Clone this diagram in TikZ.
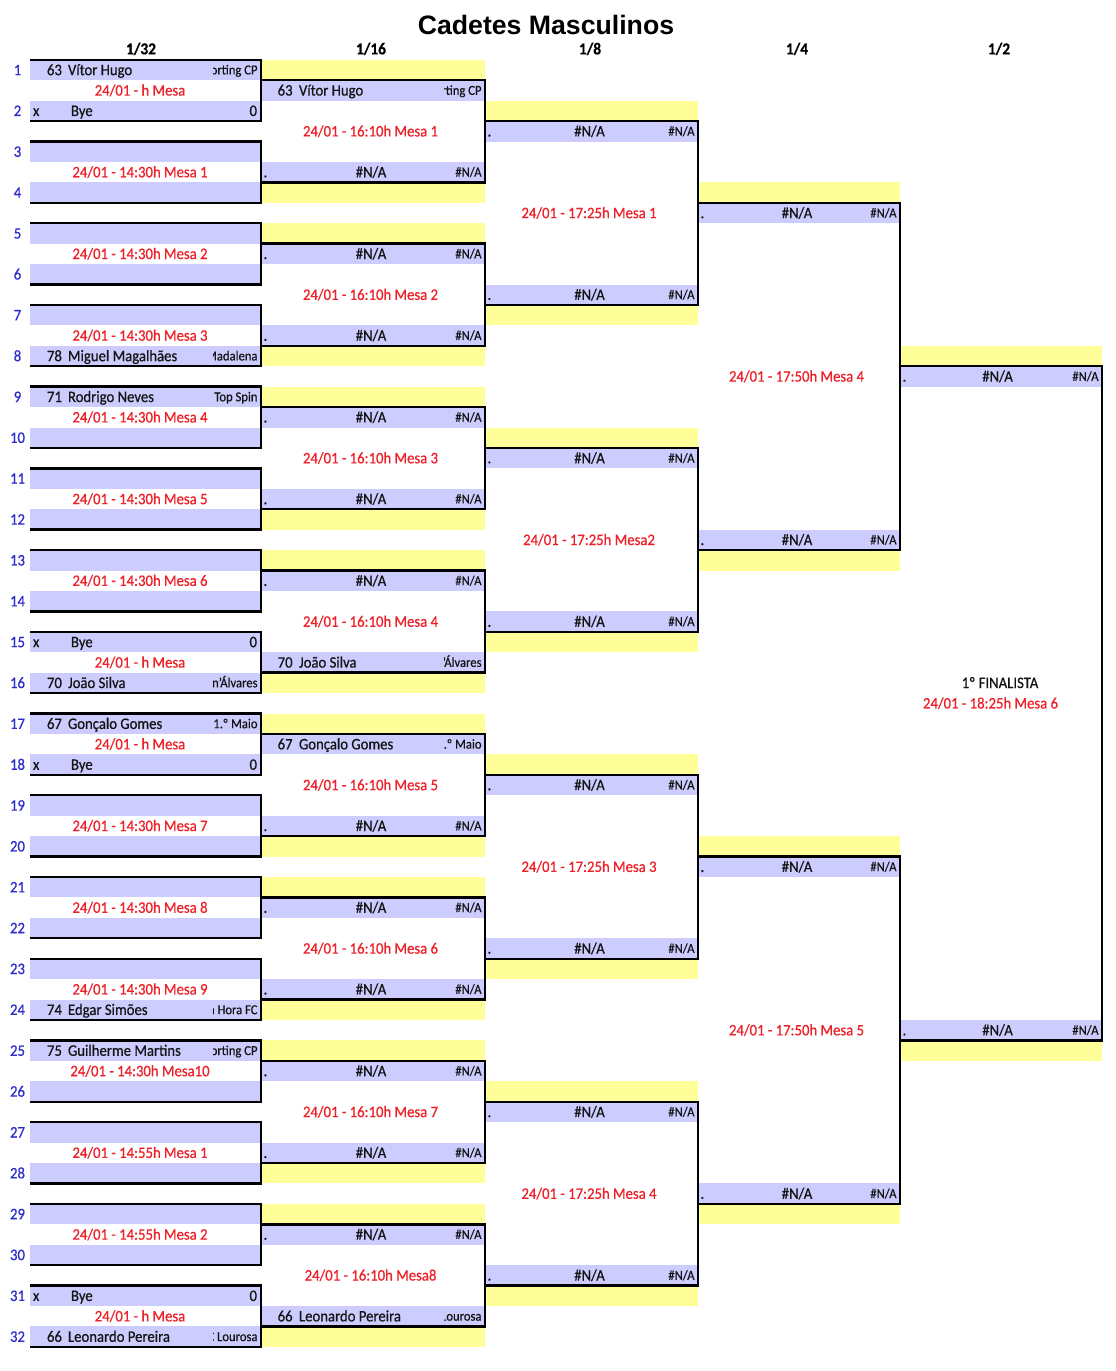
\documentclass[tikz,border=0pt]{standalone}
\usepackage{fontspec}
\setmainfont{Carlito}[FakeStretch=0.92,FakeBold=0.6]
\newfontfamily\titlefont{Liberation Sans}
\definecolor{lav}{RGB}{204,204,255}
\definecolor{yel}{RGB}{255,255,153}
\definecolor{numblue}{RGB}{45,45,205}
\definecolor{mesared}{RGB}{238,32,40}
\definecolor{ink}{RGB}{20,20,20}

% text of a filled 1/32 player row
\newcommand\plA[4]{%
  \node[txt,anchor=west] (A#1s) at ([xshift=12.75pt]A#1.west) {#2};
  \node[txt,anchor=west] (A#1n) at ([xshift=28.5pt]A#1.west) {#3};
  \begin{scope}
    \clip ([xshift=-36pt]A#1.north east) rectangle ([xshift=-1pt]A#1.south east);
    \node[sm,anchor=east] (A#1c) at ([xshift=-2.6pt]A#1.east) {#4};
  \end{scope}}
% text of a bye row
\newcommand\byeA[1]{%
  \node[txt,anchor=west] (A#1x) at ([xshift=2.25pt]A#1.west) {x};
  \node[txt,anchor=west] (A#1n) at ([xshift=30.75pt]A#1.west) {Bye};
  \node[txt,anchor=east] (A#1z) at ([xshift=-3pt]A#1.east) {0};}
% text of a filled 1/16 player row
\newcommand\plB[4]{%
  \node[txt,anchor=west] (B#1s) at ([xshift=12.5pt]B#1.west) {#2};
  \node[txt,anchor=west] (B#1n) at ([xshift=28.5pt]B#1.west) {#3};
  \begin{scope}
    \clip ([xshift=-30.75pt]B#1.north east) rectangle ([xshift=-1pt]B#1.south east);
    \node[sm,anchor=east] (B#1c) at ([xshift=-2.6pt]B#1.east) {#4};
  \end{scope}}
% empty (#N/A) player row
\newcommand\nacell[2]{%
  \node[txt,anchor=west] (#1dot) at ([xshift=1.9pt]#1.west) {.};
  \node[txt] (#1na) at ([xshift=#2]#1.center) {\#N/A};
  \node[sm,anchor=east] (#1nb) at ([xshift=-2.6pt]#1.east) {\#N/A};}

\begin{document}
\begin{tikzpicture}[x=0.75pt,y=-0.75pt,
  cell/.style={rectangle,inner sep=0pt,outer sep=0pt,minimum height=15.3225pt,fill=#1},
  wA/.style={minimum width=173.25pt},
  wB/.style={minimum width=168pt},
  wC/.style={minimum width=159.75pt},
  wD/.style={minimum width=151.5pt},
  brk/.style={draw=black,line width=1.8pt,line join=miter},
  txt/.style={inner sep=0pt,outer sep=0pt,text=ink,font=\fontsize{12}{14}\selectfont,text height=7.7pt,text depth=0pt},
  sm/.style={txt,font=\fontsize{10.3}{12}\selectfont,text height=6.6pt},
  mesa/.style={txt,text=mesared},
  rownum/.style={txt,text=numblue},
  hdr/.style={txt,text=black,font=\fontsize{12.5}{14}\selectfont\bfseries,text height=8pt},
  ttl/.style={inner sep=0pt,text=black,font=\titlefont\fontsize{20}{24}\selectfont\bfseries,text height=14.3pt,text depth=0pt}
]
\useasboundingbox (0,0) rectangle (1116,1371);
\fill[white] (0,0) rectangle (1116,1371);

% ---------- title and headers
\node[ttl] (title) at (546,25) {Cadetes Masculinos};
\node[hdr] (h32) at (141,49) {1/32};
\node[hdr] (h16) at (371,49) {1/16};
\node[hdr] (h8) at (590,49) {1/8};
\node[hdr] (h4) at (797,49) {1/4};
\node[hdr] (h2) at (999,49) {1/2};

% ---------- cells
\foreach \i in {1,...,32}{
  \pgfmathsetmacro\yy{70+20.43*2*(\i-1)}
  \node[cell=lav,wA] (A\i) at (145.5,\yy) {};
  \node[rownum] (n\i) at (17.5,\yy) {\i};
}
\foreach \j in {0,...,7}{
  \pgfmathtruncatemacro\ja{2*\j+1}
  \pgfmathtruncatemacro\jb{2*\j+2}
  \node[cell=yel,wB] (Bya\j) at (373,{70+20.43*(8*\j)}) {};
  \node[cell=lav,wB] (B\ja) at (373,{70+20.43*(8*\j+1)}) {};
  \node[cell=lav,wB] (B\jb) at (373,{70+20.43*(8*\j+5)}) {};
  \node[cell=yel,wB] (Byb\j) at (373,{70+20.43*(8*\j+6)}) {};
}
\foreach \j in {0,...,3}{
  \pgfmathtruncatemacro\ja{2*\j+1}
  \pgfmathtruncatemacro\jb{2*\j+2}
  \node[cell=yel,wC] (Cya\j) at (591.5,{70+20.43*(16*\j+2)}) {};
  \node[cell=lav,wC] (C\ja) at (591.5,{70+20.43*(16*\j+3)}) {};
  \node[cell=lav,wC] (C\jb) at (591.5,{70+20.43*(16*\j+11)}) {};
  \node[cell=yel,wC] (Cyb\j) at (591.5,{70+20.43*(16*\j+12)}) {};
}
\foreach \j in {0,1}{
  \pgfmathtruncatemacro\ja{2*\j+1}
  \pgfmathtruncatemacro\jb{2*\j+2}
  \node[cell=yel,wD] (Dya\j) at (799,{70+20.43*(32*\j+6)}) {};
  \node[cell=lav,wD] (D\ja) at (799,{70+20.43*(32*\j+7)}) {};
  \node[cell=lav,wD] (D\jb) at (799,{70+20.43*(32*\j+23)}) {};
  \node[cell=yel,wD] (Dyb\j) at (799,{70+20.43*(32*\j+24)}) {};
}
\node[cell=yel,wD] (Eya) at (1001,{70+20.43*14}) {};
\node[cell=lav,wD] (E1) at (1001,{70+20.43*15}) {};
\node[cell=lav,wD] (E2) at (1001,{70+20.43*47}) {};
\node[cell=yel,wD] (Eyb) at (1001,{70+20.43*48}) {};

% ---------- bracket lines
\foreach \m in {1,...,16}{
  \pgfmathtruncatemacro\a{2*\m-1}\pgfmathtruncatemacro\b{2*\m}
  \draw[brk] (A\a.north west) -- (A\a.north east) -- (A\b.south east) -- (A\b.south west);
}
\foreach \m in {1,...,8}{
  \pgfmathtruncatemacro\a{2*\m-1}\pgfmathtruncatemacro\b{2*\m}
  \draw[brk] (B\a.north west) -- (B\a.north east) -- (B\b.south east) -- (B\b.south west);
}
\foreach \m in {1,...,4}{
  \pgfmathtruncatemacro\a{2*\m-1}\pgfmathtruncatemacro\b{2*\m}
  \draw[brk] (C\a.north west) -- (C\a.north east) -- (C\b.south east) -- (C\b.south west);
}
\foreach \m in {1,2}{
  \pgfmathtruncatemacro\a{2*\m-1}\pgfmathtruncatemacro\b{2*\m}
  \draw[brk] (D\a.north west) -- (D\a.north east) -- (D\b.south east) -- (D\b.south west);
}
\draw[brk] (E1.north west) -- (E1.north east) -- (E2.south east) -- (E2.south west);

% ---------- 1/32 players
\plA{1}{63}{Vítor Hugo}{Sporting CP}
\byeA{2}
\plA{8}{78}{Miguel Magalhães}{Madalena}
\plA{9}{71}{Rodrigo Neves}{Top Spin}
\byeA{15}
\plA{16}{70}{João Silva}{Nun'Álvares}
\plA{17}{67}{Gonçalo Gomes}{1.º Maio}
\byeA{18}
\plA{24}{74}{Edgar Simões}{Boa Hora FC}
\plA{25}{75}{Guilherme Martins}{Sporting CP}
\byeA{31}
\plA{32}{66}{Leonardo Pereira}{AC Lourosa}

% ---------- 1/16 players
\plB{1}{63}{Vítor Hugo}{Sporting CP}
\plB{8}{70}{João Silva}{Nun'Álvares}
\plB{9}{67}{Gonçalo Gomes}{1.º Maio}
\plB{16}{66}{Leonardo Pereira}{AC Lourosa}
\foreach \i in {2,3,4,5,6,7,10,11,12,13,14,15}{\nacell{B\i}{-1.5pt}}
\foreach \i in {1,...,8}{\nacell{C\i}{-1.5pt}}
\foreach \i in {1,...,4}{\nacell{D\i}{-1.5pt}}
\nacell{E1}{-2.6pt}
\nacell{E2}{-2.6pt}

% ---------- match times
\foreach \m/\t in {0/h Mesa,1/14:30h Mesa 1,2/14:30h Mesa 2,3/14:30h Mesa 3,
  4/14:30h Mesa 4,5/14:30h Mesa 5,6/14:30h Mesa 6,7/h Mesa,8/h Mesa,
  9/14:30h Mesa 7,10/14:30h Mesa 8,11/14:30h Mesa 9,12/14:30h Mesa10,
  13/14:55h Mesa 1,14/14:55h Mesa 2,15/h Mesa}{
  \node[mesa] (mA\m) at (140,{70+20.43*(4*\m+1)}) {24/01 - \t};
}
\foreach \j/\t in {0/16:10h Mesa 1,1/16:10h Mesa 2,2/16:10h Mesa 3,3/16:10h Mesa 4,
  4/16:10h Mesa 5,5/16:10h Mesa 6,6/16:10h Mesa 7,7/16:10h Mesa8}{
  \node[mesa] (mB\j) at (370.5,{70+20.43*(8*\j+3)}) {24/01 - \t};
}
\foreach \j/\t in {0/17:25h Mesa 1,1/17:25h Mesa2,2/17:25h Mesa 3,3/17:25h Mesa 4}{
  \node[mesa] (mC\j) at (589,{70+20.43*(16*\j+7)}) {24/01 - \t};
}
\foreach \j/\t in {0/17:50h Mesa 4,1/17:50h Mesa 5}{
  \node[mesa] (mD\j) at (796.5,{70+20.43*(32*\j+15)}) {24/01 - \t};
}
\node[txt] (fin) at (1000,{70+20.43*30}) {1º FINALISTA};
\node[mesa] (mE) at (990.5,{70+20.43*31}) {24/01 - 18:25h Mesa 6};
\end{tikzpicture}
\end{document}
